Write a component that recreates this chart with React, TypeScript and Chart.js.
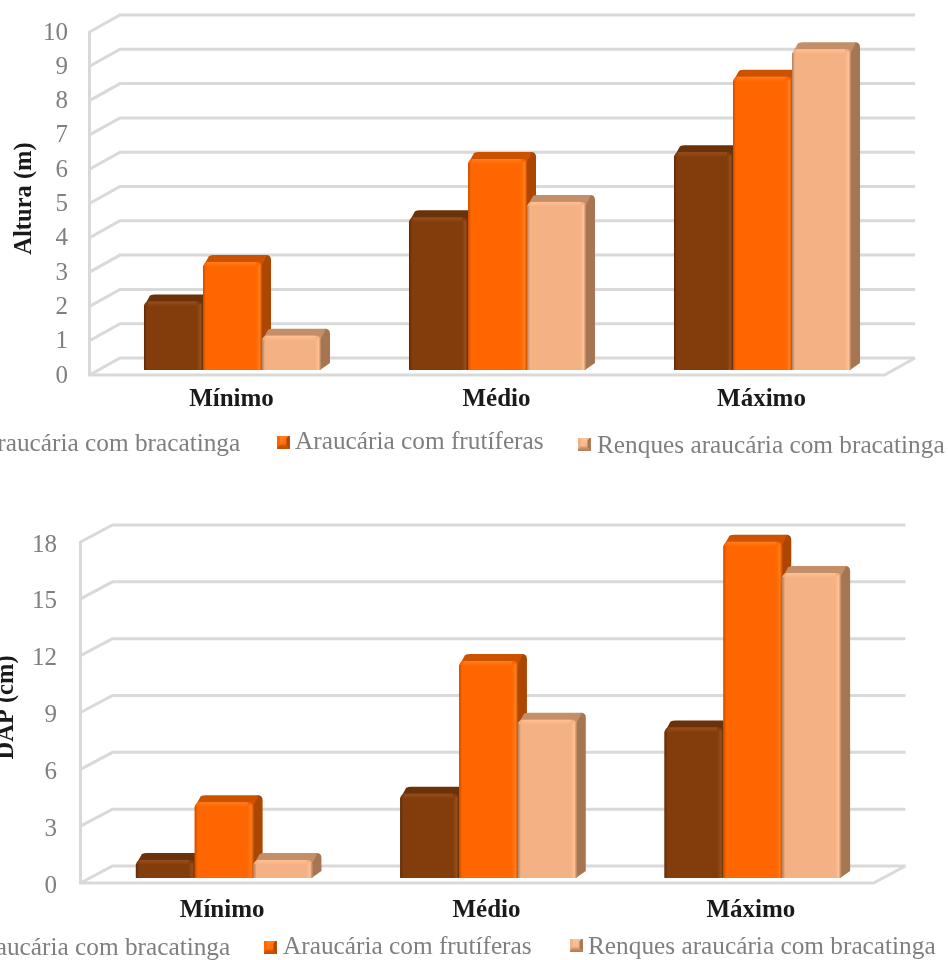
import React, { useEffect, useRef } from "react";
import { Chart, registerables } from "chart.js";

Chart.register(...registerables);

const categories = ["Mínimo", "Médio", "Máximo"];
const seriesNames = [
  "Araucária com bracatinga",
  "Araucária com frutíferas",
  "Renques araucária com bracatinga",
];

const alturaBracatinga = [2.0, 4.45, 6.35];
const alturaFrutiferas = [3.15, 6.15, 8.55];
const alturaRenques = [1.0, 4.9, 9.35];

const dapBracatinga = [0.95, 4.45, 7.95];
const dapFrutiferas = [4.0, 11.45, 17.75];
const dapRenques = [0.95, 8.35, 16.1];

const SERIF = "'Liberation Serif', 'Times New Roman', serif";
const GRID = "#d9d9d9";
const MUTED_TEXT = "#7f7f7f";
const DARK_TEXT = "#1a1a1a";

const palette = [
  { face: "#833c0b", top: "#6b3108", side: "#6a3008", glow: "#96501c", edge: "#5e2a06" },
  { face: "#ff6600", top: "#cc5200", side: "#ad4600", glow: "#ff7d1c", edge: "#c64f00" },
  { face: "#f4b183", top: "#c48e69", side: "#a67652", glow: "#ffc194", edge: "#b08060" },
];

// Depth of the box: the bars stand a little behind the front plane of the walls.
const WALL_Y = 17;
const PLANE_Y = 5;
const BAR_X = 9;
const BAR_Y = 7;
const RADIUS = 5;

// A small bevelled square, lit from the top left.
function makeMarker(c: (typeof palette)[number]) {
  const m = document.createElement("canvas");
  m.width = 13;
  m.height = 13;
  const g = m.getContext("2d")!;
  const wedge = (color: string, pts: number[][]) => {
    g.fillStyle = color;
    g.beginPath();
    pts.forEach(([x, y], i) => (i ? g.lineTo(x, y) : g.moveTo(x, y)));
    g.closePath();
    g.fill();
  };
  g.fillStyle = c.edge;
  g.fillRect(0, 0, 13, 13);
  wedge(c.glow, [[0, 0], [12, 0], [6.5, 6.5]]);
  wedge(c.face, [[0, 0], [0, 12], [6.5, 6.5]]);
  wedge(c.side, [[12, 0], [12, 12], [6.5, 6.5]]);
  wedge(c.top, [[0, 12], [12, 12], [6.5, 6.5]]);
  const core = g.createLinearGradient(3, 3, 10, 10);
  core.addColorStop(0, c.glow);
  core.addColorStop(1, c.face);
  g.fillStyle = core;
  g.fillRect(3, 3, 6.5, 6.5);
  return m;
}

function drawWalls(chart: any, planeX: number, wallX: number) {
  const { ctx, chartArea, scales } = chart;
  const frontX = chartArea.left - planeX;
  const backX = frontX + wallX;
  const backRight = chartArea.right - planeX + wallX;
  ctx.save();
  ctx.strokeStyle = GRID;
  ctx.lineWidth = 3;
  const y = scales.y;
  for (const tick of y.ticks) {
    const fy = y.getPixelForValue(tick.value) + PLANE_Y;
    ctx.beginPath();
    ctx.moveTo(frontX, fy);
    ctx.lineTo(backX, fy - WALL_Y);
    ctx.lineTo(backRight, fy - WALL_Y);
    ctx.stroke();
  }
  const y0 = y.getPixelForValue(y.min) + PLANE_Y;
  const yMax = y.getPixelForValue(y.max) + PLANE_Y;
  ctx.beginPath();
  ctx.moveTo(frontX, yMax - 1);
  ctx.lineTo(frontX, y0);
  ctx.lineTo(backRight - wallX, y0);
  ctx.lineTo(backRight, y0 - WALL_Y);
  ctx.stroke();
  ctx.restore();
}

function drawBarBack(ctx: any, meta: any, c: (typeof palette)[number]) {
  ctx.save();
  for (const bar of meta.data) {
    const l = bar.x - bar.width / 2;
    const r = bar.x + bar.width / 2;
    const t = bar.y;
    const b = bar.base;
    ctx.fillStyle = c.side;
    ctx.beginPath();
    ctx.moveTo(r - 1, b);
    ctx.lineTo(r + BAR_X, b - BAR_Y);
    ctx.lineTo(r + BAR_X, t - BAR_Y + RADIUS);
    ctx.quadraticCurveTo(r + BAR_X, t - BAR_Y, r + BAR_X - RADIUS, t - BAR_Y);
    ctx.lineTo(r - 1, t);
    ctx.closePath();
    ctx.fill();
    ctx.fillStyle = c.top;
    ctx.beginPath();
    ctx.moveTo(l + 1, t + 3);
    ctx.lineTo(l + BAR_X - 3, t - BAR_Y + 1);
    ctx.quadraticCurveTo(l + BAR_X - 1, t - BAR_Y, l + BAR_X + 2, t - BAR_Y);
    ctx.lineTo(r + BAR_X - 4, t - BAR_Y);
    ctx.lineTo(r, t + 3);
    ctx.closePath();
    ctx.fill();
  }
  ctx.restore();
}

function drawBarBevel(ctx: any, meta: any, c: (typeof palette)[number]) {
  ctx.save();
  for (const bar of meta.data) {
    const l = bar.x - bar.width / 2;
    const r = bar.x + bar.width / 2;
    const t = bar.y;
    const b = bar.base;
    const right = ctx.createLinearGradient(r - 6, 0, r, 0);
    right.addColorStop(0, c.face);
    right.addColorStop(0.6, c.glow);
    right.addColorStop(1, c.edge);
    ctx.fillStyle = right;
    ctx.fillRect(r - 6, t + 3, 6, b - t - 3);
    const left = ctx.createLinearGradient(l, 0, l + 3, 0);
    left.addColorStop(0, c.edge);
    left.addColorStop(1, c.face);
    ctx.fillStyle = left;
    ctx.fillRect(l, t + 4, 3, b - t - 4);
    const top = ctx.createLinearGradient(0, t, 0, t + 5);
    top.addColorStop(0, c.glow);
    top.addColorStop(1, c.face);
    ctx.fillStyle = top;
    ctx.fillRect(l + 4, t, bar.width - 10, 5);
  }
  ctx.restore();
}

// Bars are painted left to right so each one overlaps the side face of its neighbour.
function boxPlugin(planeX: number, wallX: number) {
  return {
    id: "box3d",
    beforeDatasetsDraw(chart: any) {
      drawWalls(chart, planeX, wallX);
      chart.data.datasets.forEach((_: any, i: number) => {
        const meta = chart.getDatasetMeta(i);
        drawBarBack(chart.ctx, meta, palette[i]);
        meta.controller.draw();
        drawBarBevel(chart.ctx, meta, palette[i]);
      });
      return false;
    },
  };
}

type Spot = { mark: number; text: number; markY: number; textY: number };

// The key is wider than the page, so its first entry runs off the left edge.
function keyPlugin(spots: Spot[]) {
  return {
    id: "wideKey",
    afterDraw(chart: any) {
      const { ctx } = chart;
      ctx.save();
      ctx.font = `25.3px ${SERIF}`;
      ctx.fillStyle = MUTED_TEXT;
      ctx.textBaseline = "middle";
      chart.data.datasets.forEach((d: any, i: number) => {
        const s = spots[i];
        ctx.drawImage(makeMarker(palette[i]), s.mark, s.markY - 6.5);
        ctx.fillText(d.label, s.text, s.textY);
      });
      ctx.restore();
    },
  };
}

function buildConfig(o: {
  series: number[][];
  yMax: number;
  yStep: number;
  yTitle: string;
  pad: { left: number; right: number; top: number; bottom: number };
  axisWidth: number;
  tickGap: number;
  tickShift: number;
  catGap: number;
  catShift: number;
  planeX: number;
  wallX: number;
  spots: Spot[];
}): any {
  return {
    type: "bar",
    data: {
      labels: categories,
      datasets: o.series.map((values, i) => ({
        label: seriesNames[i],
        data: values,
        backgroundColor: palette[i].face,
        borderRadius: { topLeft: RADIUS, topRight: RADIUS, bottomLeft: 1, bottomRight: 1 },
        borderSkipped: false,
        barPercentage: 1,
        categoryPercentage: 0.668,
      })),
    },
    options: {
      responsive: false,
      animation: false,
      events: [],
      layout: { padding: o.pad },
      plugins: { tooltip: { enabled: false }, legend: { display: false } },
      scales: {
        x: {
          grid: { display: false, drawTicks: false },
          border: { display: false },
          afterFit: (s: any) => {
            s.height = 60;
          },
          ticks: {
            color: DARK_TEXT,
            padding: o.catGap,
            labelOffset: o.catShift,
            maxRotation: 0,
            font: { family: SERIF, size: 25, weight: "bold" },
          },
        },
        y: {
          min: 0,
          max: o.yMax,
          grid: { display: false, drawTicks: false },
          border: { display: false },
          afterFit: (s: any) => {
            s.width = o.axisWidth;
          },
          title: {
            display: true,
            text: o.yTitle,
            color: DARK_TEXT,
            padding: 0,
            font: { family: SERIF, size: 24.5, weight: "bold" },
          },
          ticks: {
            stepSize: o.yStep,
            autoSkip: false,
            color: MUTED_TEXT,
            padding: o.tickGap,
            labelOffset: PLANE_Y + o.tickShift,
            font: { family: SERIF, size: 25 },
          },
        },
      },
    },
    plugins: [boxPlugin(o.planeX, o.wallX), keyPlugin(o.spots)],
  };
}

function BoxChart(props: { left: number; top: number; height: number; config: () => any }) {
  const ref = useRef<HTMLCanvasElement>(null);
  useEffect(() => {
    const chart = new Chart(ref.current!, props.config());
    return () => chart.destroy();
  }, []);
  return (
    <canvas
      ref={ref}
      width={1032}
      height={props.height}
      style={{ position: "absolute", left: props.left, top: props.top, width: 1032, height: props.height }}
    />
  );
}

export default function App() {
  return (
    <div style={{ position: "fixed", left: 0, top: 0, width: 948, height: 960, overflow: "hidden", background: "#fff" }}>
      <BoxChart
        left={-60}
        top={-30}
        height={500}
        config={() =>
          buildConfig({
            series: [alturaBracatinga, alturaFrutiferas, alturaRenques],
            yMax: 10,
            yStep: 1,
            yTitle: "Altura (m)",
            pad: { left: 70, right: 77, top: 57, bottom: 40 },
            axisWidth: 90,
            tickGap: 32,
            tickShift: 1,
            catGap: 15,
            catShift: -1,
            planeX: 10.5,
            wallX: 30.5,
            spots: [
              { mark: 0, text: 39, markY: 473, textY: 474 },
              { mark: 337, text: 355, markY: 472, textY: 472 },
              { mark: 638, text: 657, markY: 474, textY: 476 },
            ],
          })
        }
      />
      <BoxChart
        left={-71}
        top={480}
        height={480}
        config={() =>
          buildConfig({
            series: [dapBracatinga, dapFrutiferas, dapRenques],
            yMax: 18,
            yStep: 3,
            yTitle: "DAP (cm)",
            pad: { left: 63, right: 76, top: 57, bottom: 22 },
            axisWidth: 100,
            tickGap: 35,
            tickShift: 3,
            catGap: 18,
            catShift: -2,
            planeX: 11.5,
            wallX: 32,
            spots: [
              { mark: 22, text: 40, markY: 467, textY: 468 },
              { mark: 335, text: 354, markY: 467, textY: 467 },
              { mark: 641, text: 659, markY: 465, textY: 467 },
            ],
          })
        }
      />
    </div>
  );
}
